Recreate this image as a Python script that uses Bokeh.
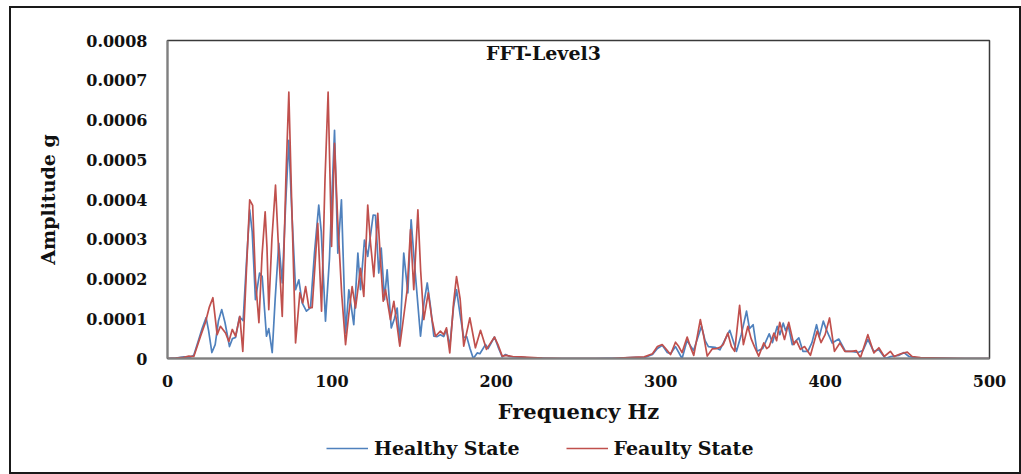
from bokeh.plotting import figure
from bokeh.layouts import column
from bokeh.models import Range1d, FixedTicker, CustomJSTickFormatter, Legend, LegendItem, Label
from bokeh.embed import file_html
from bokeh.resources import INLINE

# ---- data (amplitudes in units of 1e-4 g) ----
healthy_freq = [0, 5, 10, 13, 16, 19, 21, 23.5, 25, 27, 29, 31, 33, 35, 37.7, 39.5, 41.4, 43.8, 46, 48, 50,
                51.5, 53.5, 56, 57.6, 60.2, 61.6, 63.7, 65.5, 67.7, 69.8, 72, 73.8, 75.5, 77.9, 79.9, 81.9,
                84.5, 87, 89.4, 92, 93.5, 96.1, 98.5, 101.6, 103.6, 105.8, 108.3, 110.3, 113.3, 115.8, 117.4,
                119.8, 121.8, 125.1, 126.5, 128.5, 130, 132, 133.6, 136.1, 138, 139.7, 141.3, 143.7, 146.2,
                148.2, 150, 153.9, 156, 158, 160, 162, 164, 166, 168, 169.7, 171.7, 174, 175.8, 178, 180.2,
                182, 184, 186, 188.4, 190, 193.4, 195, 198.9, 201, 203.6, 205.6, 208, 212, 218, 225, 235,
                260, 275, 285, 290, 295, 298, 301, 304, 306, 309, 313, 316, 320, 324.8, 327, 329, 333, 336,
                342, 346.1, 349, 352.2, 354, 356.2, 358.6, 362, 366, 368, 370.9, 372.5, 374.5, 376, 377.5,
                380, 384, 386.5, 389.5, 392, 394.8, 396.5, 398.9, 401, 404.3, 408.3, 412.4, 416, 420, 423,
                426, 429.5, 432.7, 436.7, 440, 445, 448, 451, 455, 465, 480, 500]
healthy_amp = [0, 0.01, 0.04, 0.02, 0.08, 0.48, 0.75, 1.03, 0.7, 0.15, 0.35, 0.95, 1.23, 0.9, 0.3, 0.5, 0.53,
               1.05, 0.95, 2.4, 3.74, 3.2, 1.48, 2.15, 2.06, 0.56, 0.75, 0.15, 1.5, 2.9, 1.9, 4.0, 5.49, 3.8,
               1.73, 1.98, 1.4, 1.19, 1.28, 2.65, 3.86, 3.2, 0.94, 2.5, 5.74, 2.65, 3.99, 0.64, 1.73, 0.85,
               2.65, 1.73, 2.98, 2.57, 3.61, 3.6, 2.15, 2.78, 1.48, 2.23, 0.77, 1.0, 1.27, 0.39, 2.65, 1.65,
               3.49, 2.5, 0.56, 1.4, 1.9, 1.3, 0.56, 0.55, 0.6, 0.55, 0.73, 0.3, 1.3, 1.73, 1.1, 0.52,
               0.55, 0.25, 0.0, 0.14, 0.12, 0.35, 0.25, 0.54, 0.3, 0.04, 0.1, 0.05, 0.04, 0.02, 0.01, 0.0,
               0.0, 0.01, 0.03, 0.02, 0.1, 0.25, 0.33, 0.15, 0.12, 0.3, 0.0, 0.45, 0.2, 0.81, 0.45, 0.3, 0.28,
               0.22, 0.71, 0.18, 0.6, 1.19, 0.75, 0.85, 0.18, 0.25, 0.62, 0.4, 0.81, 0.6, 0.89, 0.7, 0.85,
               0.35, 0.52, 0.18, 0.18, 0.4, 0.85, 0.55, 0.94, 0.7, 0.39, 0.49, 0.18, 0.18, 0.15, 0.2,
               0.48, 0.18, 0.22, 0.0, 0.05, 0.08, 0.15, 0.05, 0.02, 0.01, 0.0, 0.0]

faulty_freq = [0, 5, 10, 13, 16, 20, 23, 25.5, 27.6, 30.2, 32.2, 35.3, 37.3, 39.4, 41.4, 44, 45.8, 48, 50,
               51.8, 53.5, 55.6, 57.5, 59.4, 60.5, 61.6, 63.5, 65.7, 67.5, 69.8, 72, 73.8, 75.5, 77.9, 80.5,
               82.3, 84, 86, 88, 89.8, 91.4, 93.7, 95.8, 97.7, 99.8, 101.6, 103.5, 106, 108.3, 110.5, 112.3,
               114.4, 117.4, 119.4, 121.8, 123.5, 125.5, 127.9, 129.5, 131.2, 132.6, 135.6, 137.7, 141.3,
               143.5, 145.8, 147.8, 149.8, 152.3, 154, 155.9, 158.6, 160.8, 163, 166, 168, 169.7, 171.7,
               174, 175.8, 178, 180.2, 183.9, 187.3, 190.4, 194, 198.9, 201, 203.6, 206, 210, 215, 220, 228,
               240, 270, 280, 290, 295, 298, 300.9, 303, 306, 309, 311, 313, 316.1, 318, 320.1, 322, 324.1,
               326, 328.3, 331.3, 334, 336, 338, 340.8, 343, 345, 348, 350.3, 353, 355, 357, 359.6, 362.7,
               364.5, 366, 368.9, 370.5, 372.4, 375.3, 377.9, 381, 382.5, 385, 387.5, 391.1, 395.2, 397.5,
               400, 402.7, 405.7, 409, 412, 416, 419, 421.5, 426, 429.7, 432.7, 436, 439.7, 442, 446, 450,
               453, 458, 470, 485, 500]
faulty_amp = [0, 0.01, 0.03, 0.06, 0.05, 0.55, 0.9, 1.3, 1.53, 0.6, 0.81, 0.64, 0.43, 0.73, 0.56, 1.06, 0.18,
              2.2, 3.99, 3.85, 2.0, 0.9, 2.6, 3.69, 2.8, 1.23, 3.0, 4.36, 2.8, 1.06, 4.5, 6.7, 4.0, 0.39,
              1.65, 1.4, 1.81, 1.28, 1.28, 2.4, 3.4, 1.19, 4.5, 6.7, 2.82, 5.41, 3.5, 1.6, 0.35, 1.2, 1.81,
              1.27, 2.27, 1.56, 3.86, 2.9, 2.06, 3.65, 2.5, 1.44, 1.73, 0.98, 1.44, 0.31, 1.0, 1.73, 3.24,
              1.73, 3.74, 2.2, 0.98, 1.65, 1.0, 0.56, 0.69, 0.6, 0.77, 0.14, 1.4, 2.06, 1.5, 0.31, 1.02,
              0.27, 0.71, 0.23, 0.54, 0.35, 0.06, 0.08, 0.05, 0.04, 0.03, 0.01, 0.0, 0.0, 0.02, 0.04, 0.12,
              0.3, 0.35, 0.25, 0.1, 0.41, 0.3, 0.15, 0.54, 0.3, 0.08, 0.5, 0.98, 0.6, 0.06, 0.24, 0.25,
              0.28, 0.35, 0.64, 0.3, 0.18, 1.34, 0.35, 0.81, 0.5, 0.3, 0.06, 0.39, 0.25, 0.3, 0.64, 0.45,
              0.91, 0.48, 0.91, 0.35, 0.45, 0.23, 0.3, 0.08, 0.69, 0.4, 0.6, 1.02, 0.18, 0.39, 0.18, 0.18,
              0.2, 0.02, 0.6, 0.14, 0.27, 0.05, 0.18, 0.05, 0.12, 0.16, 0.05, 0.02, 0.01, 0.0, 0.0]

x_ticks = [0, 100, 200, 300, 400, 500]
y_ticks = [0, 0.0001, 0.0002, 0.0003, 0.0004, 0.0005, 0.0006, 0.0007, 0.0008]
series_names = ["Healthy State", "Feaulty State"]
series_colors = ["#4F81BD", "#C0504D"]
title_text = "FFT-Level3"
x_label = "Frequency Hz"
y_label = "Amplitude g"

SCALE = 1e-4
FONT = "DejaVu Serif"

healthy_y = [v * SCALE for v in healthy_amp]
faulty_y = [v * SCALE for v in faulty_amp]

# ---- main chart ----
p = figure(width=1008, height=418, output_backend="svg", toolbar_location=None,
           x_range=Range1d(0, 500), y_range=Range1d(0, 0.0008),
           min_border_left=156, min_border_right=30, min_border_top=32, min_border_bottom=67)

p.grid.visible = False
p.outline_line_color = "#3a3a3a"
p.outline_line_width = 1.5
p.background_fill_color = "white"
p.border_fill_color = "white"

p.line(healthy_freq, healthy_y, line_color=series_colors[0], line_width=1.7, line_join="round")
p.line(faulty_freq, faulty_y, line_color=series_colors[1], line_width=1.7, line_join="round")

for ax in (p.xaxis[0], p.yaxis[0]):
    ax.major_tick_line_color = None
    ax.minor_tick_line_color = None
    ax.axis_line_color = "#7f7f7f"
    ax.axis_line_width = 2
    ax.major_label_text_font = FONT
    ax.major_label_text_font_style = "bold"
    ax.major_label_text_font_size = "16px"
    ax.major_label_text_color = "#111111"
    ax.axis_label_text_font = FONT
    ax.axis_label_text_font_style = "bold"
    ax.axis_label_text_color = "#111111"

p.xaxis.ticker = FixedTicker(ticks=x_ticks)
p.yaxis.ticker = FixedTicker(ticks=y_ticks)
p.yaxis.formatter = CustomJSTickFormatter(code="return tick == 0 ? '0' : tick.toFixed(4);")
p.xaxis.major_label_standoff = 10
p.yaxis.major_label_standoff = 14
p.xaxis.axis_label = x_label
p.xaxis.axis_label_text_font_size = "21px"
p.xaxis.axis_label_standoff = 9
p.yaxis.axis_label = y_label
p.yaxis.axis_label_text_font_size = "19px"
p.yaxis.axis_label_standoff = 24

title = Label(x=376, y=306, x_units="screen", y_units="screen", text=title_text,
              text_font=FONT, text_font_style="bold", text_font_size="19px",
              text_align="center", text_baseline="middle", text_color="#111111")
p.add_layout(title)

# ---- legend strip below the chart (series drawn outside its visible range) ----
leg = figure(width=1008, height=46, output_backend="svg", toolbar_location=None,
             x_axis_location=None, y_axis_location=None, min_border=0,
             x_range=Range1d(0, 500), y_range=Range1d(1, 2))
leg.grid.visible = False
leg.outline_line_color = None
leg.background_fill_color = "white"
leg.border_fill_color = "white"
k1 = leg.line(healthy_freq, healthy_y, line_color=series_colors[0], line_width=1.7)
k2 = leg.line(faulty_freq, faulty_y, line_color=series_colors[1], line_width=1.7)

legend = Legend(items=[LegendItem(label=series_names[0], renderers=[k1]),
                       LegendItem(label=series_names[1], renderers=[k2])],
                orientation="horizontal", location=(159, 13))
legend.label_text_font = FONT
legend.label_text_font_style = "bold"
legend.label_text_font_size = "19px"
legend.label_text_color = "#111111"
legend.glyph_width = 42
legend.label_standoff = 6
legend.spacing = 46
legend.border_line_color = None
legend.background_fill_alpha = 0
legend.margin = 0
legend.padding = 4
leg.add_layout(legend)

layout = column(p, leg, spacing=0,
                styles={"border": "2px solid #1a1a1a", "margin-left": "9px", "margin-top": "6px"})

open("out.html", "w").write(file_html(layout, INLINE))
